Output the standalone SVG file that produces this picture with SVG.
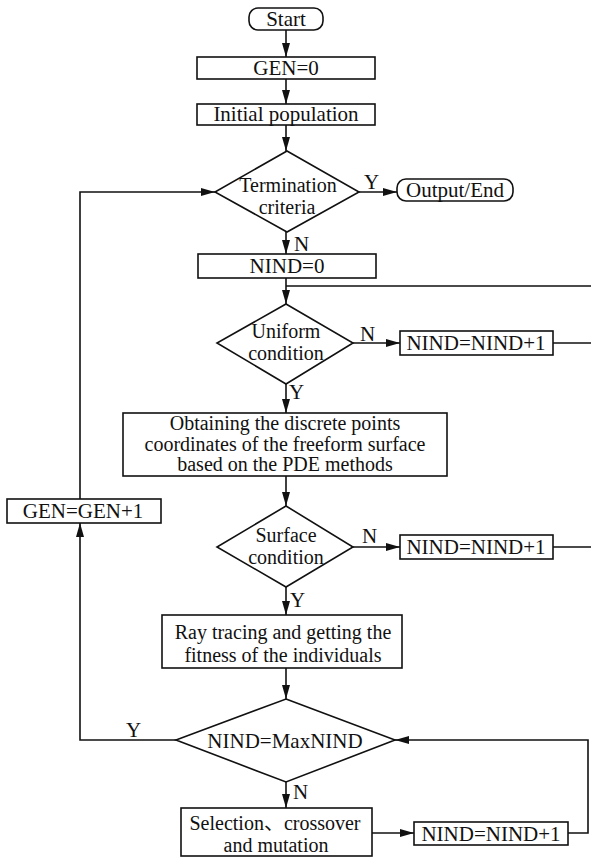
<svg xmlns="http://www.w3.org/2000/svg" width="591" height="857" viewBox="0 0 591 857">
<style>
  .shape { fill: #fff; stroke: #111; stroke-width: 1.6; }
  .conn { fill: none; stroke: #111; stroke-width: 1.6; }
  text { font-family: "Liberation Serif", "Noto Sans CJK SC", serif; font-size: 21px; fill: #111; }
  .c { text-anchor: middle; }
  .m { font-size: 20px; }
</style>
<defs>
  <marker id="arr" viewBox="0 0 14 8" refX="14" refY="4" markerWidth="14" markerHeight="8" markerUnits="userSpaceOnUse" orient="auto">
    <path d="M0,0 L14,4 L0,8 z" fill="#111"/>
  </marker>
</defs>
<rect width="591" height="857" fill="#fff"/>

<g id="connectors">
  <path class="conn" d="M286,30 V57" marker-end="url(#arr)"/>
  <path class="conn" d="M286,79 V104" marker-end="url(#arr)"/>
  <path class="conn" d="M286,125 V151" marker-end="url(#arr)"/>
  <path class="conn" d="M359,192 H397" marker-end="url(#arr)"/>
  <path class="conn" d="M286,232 V254" marker-end="url(#arr)"/>
  <path class="conn" d="M286,278 V304" marker-end="url(#arr)"/>
  <path class="conn" d="M353,343 H400" marker-end="url(#arr)"/>
  <path class="conn" d="M553,343 H593"/>
  <path class="conn" d="M553,547 H593 V286 H286"/>
  <path class="conn" d="M286,384 V413" marker-end="url(#arr)"/>
  <path class="conn" d="M286,476 V506" marker-end="url(#arr)"/>
  <path class="conn" d="M353,547 H400" marker-end="url(#arr)"/>
  <path class="conn" d="M286,587 V615" marker-end="url(#arr)"/>
  <path class="conn" d="M286,668 V699" marker-end="url(#arr)"/>
  <path class="conn" d="M286,782 V808" marker-end="url(#arr)"/>
  <path class="conn" d="M372,833 H414" marker-end="url(#arr)"/>
  <path class="conn" d="M568,833 H588 V740 H395" marker-end="url(#arr)"/>
  <path class="conn" d="M176,740 H80 V523" marker-end="url(#arr)"/>
  <path class="conn" d="M80,499 V192 H215" marker-end="url(#arr)"/>
  <text x="364" y="189">Y</text>
  <text x="294" y="251">N</text>
  <text x="360" y="341">N</text>
  <text x="289" y="399">Y</text>
  <text x="362" y="543">N</text>
  <text x="290" y="607">Y</text>
  <text x="126" y="737">Y</text>
  <text x="293" y="799">N</text>
</g>

<g id="start">
  <rect class="shape" x="249" y="8" width="74" height="22" rx="9"/>
  <text class="c" x="286" y="26">Start</text>
</g>
<g id="gen0">
  <rect class="shape" x="197" y="57" width="178" height="22"/>
  <text class="c" x="286" y="75">GEN=0</text>
</g>
<g id="initial">
  <rect class="shape" x="197" y="104" width="178" height="21"/>
  <text class="c" x="286" y="121">Initial population</text>
</g>
<g id="termination">
  <polygon class="shape" points="287,151 359,192 287,232 215,192"/>
  <text class="c m" x="288" y="192">Termination</text>
  <text class="c m" x="287" y="214">criteria</text>
</g>
<g id="output">
  <rect class="shape" x="397" y="179" width="116" height="22" rx="9"/>
  <text class="c" x="455" y="197">Output/End</text>
</g>
<g id="nind0">
  <rect class="shape" x="198" y="254" width="178" height="24"/>
  <text class="c" x="287" y="273">NIND=0</text>
</g>
<g id="uniform">
  <polygon class="shape" points="286,304 353,343 286,384 217,343"/>
  <text class="c m" x="286" y="338">Uniform</text>
  <text class="c m" x="286" y="360">condition</text>
</g>
<g id="nind1a">
  <rect class="shape" x="400" y="331" width="153" height="24"/>
  <text class="c" x="476" y="350">NIND=NIND+1</text>
</g>
<g id="pde">
  <rect class="shape" x="123" y="413" width="324" height="63"/>
  <text class="c m" x="285" y="430">Obtaining the discrete points</text>
  <text class="c m" x="285" y="451">coordinates of the freeform surface</text>
  <text class="c m" x="285" y="471">based on the PDE methods</text>
</g>
<g id="gen1">
  <rect class="shape" x="7" y="499" width="154" height="24"/>
  <text class="c" x="83" y="518">GEN=GEN+1</text>
</g>
<g id="surface">
  <polygon class="shape" points="286,506 353,547 286,587 217,547"/>
  <text class="c m" x="286" y="542">Surface</text>
  <text class="c m" x="286" y="564">condition</text>
</g>
<g id="nind1b">
  <rect class="shape" x="400" y="535" width="153" height="24"/>
  <text class="c" x="476" y="554">NIND=NIND+1</text>
</g>
<g id="ray">
  <rect class="shape" x="162" y="615" width="240" height="53"/>
  <text class="c m" x="283" y="639">Ray tracing and getting the</text>
  <text class="c m" x="283" y="662">fitness of the individuals</text>
</g>
<g id="maxnind">
  <polygon class="shape" points="286,699 395,740 286,782 176,740"/>
  <text class="c" x="285" y="748">NIND=MaxNIND</text>
</g>
<g id="selection">
  <rect class="shape" x="181" y="808" width="191" height="48"/>
  <text class="c m" x="275" y="830">Selection、crossover</text>
  <text class="c m" x="276" y="852">and mutation</text>
</g>
<g id="nind1c">
  <rect class="shape" x="414" y="822" width="154" height="23"/>
  <text class="c" x="491" y="841">NIND=NIND+1</text>
</g>
</svg>
